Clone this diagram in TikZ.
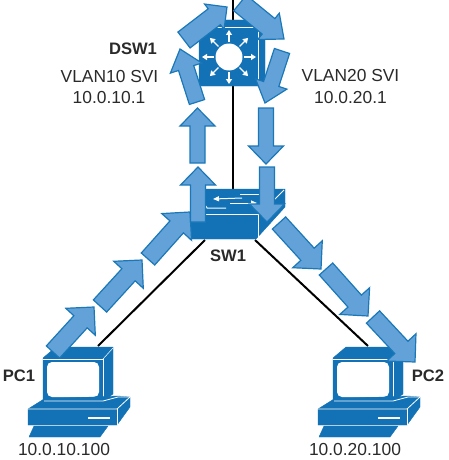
\documentclass[tikz,border=0pt]{standalone}
\usepackage{fontspec}
\setmainfont{Liberation Sans}
\usetikzlibrary{calc,arrows.meta}
\definecolor{devblue}{HTML}{1272B5}
\definecolor{flowfill}{HTML}{62A2D8}
\definecolor{flowedge}{HTML}{1B78B8}
\definecolor{labelink}{HTML}{2A2A2A}
\tikzset{
  link/.style={draw=black,line width=2pt},
  face/.style={fill=devblue,draw=devblue,line width=.4pt,line join=round},
  edgeline/.style={draw=white,line width=.8pt},
  spoke/.style={draw=white,line width=1.4pt,-{Triangle[width=6pt,length=5pt]}},
  glyph/.style={draw=white,line width=1pt},
  flowshape/.style={fill=flowfill,draw=flowedge,line width=1.2pt,line join=miter},
  lbl/.style={font=\fontsize{17.4}{19}\selectfont,text=labelink,inner sep=0pt},
  blbl/.style={font=\fontsize{16.6}{19}\selectfont\bfseries,text=labelink,inner sep=0pt}
}
% tail x,y ; tip x,y ; half shaft ; half head ; head length
\newcommand{\flowarrow}[7]{%
  \coordinate (ta) at (#1,#2);
  \coordinate (tb) at (#3,#4);
  \coordinate (hb) at ($(tb)!#7pt!(ta)$);
  \draw[flowshape]
    ($(ta)!#5pt!90:(tb)$) -- ($(hb)!#5pt!-90:(ta)$) -- ($(hb)!#6pt!-90:(ta)$) --
    (tb) -- ($(hb)!#6pt!90:(ta)$) -- ($(hb)!#5pt!90:(ta)$) -- ($(ta)!#5pt!-90:(tb)$) -- cycle;
}
\newcommand{\pcglyph}[1]{%
  \begin{scope}[shift={(#1,0)}]
    \fill[face] (43,358) -- (56,347) -- (113,347) -- (113,394) -- (103,401) -- (43,401) -- cycle;
    \draw[edgeline,line width=.5pt] (43,359) -- (103,359) -- (103,401);
    \draw[edgeline,line width=.5pt] (103,359) -- (113,348);
    \fill[white,rounded corners=5pt] (47,362) rectangle (99,397);
    \fill[face] (28,409) -- (44,399) -- (118,396) -- (130,397) -- (130,407) -- (117,425) -- (28,425) -- cycle;
    \draw[edgeline] (44,401) -- (103,401) -- (118,397) -- (130,397);
    \draw[edgeline] (28,409) -- (117,409) -- (130,397);
    \draw[edgeline] (117,409) -- (117,425);
    \draw[white,line width=1.6pt] (88,418) -- (110,418);
    \fill[face] (34,426) -- (108,426) -- (100,437) -- (29,437) -- cycle;
  \end{scope}
}
\begin{document}
\begin{tikzpicture}[x=1pt,y=-1pt]
\useasboundingbox (0,0) rectangle (449,460);
\clip (0,0) rectangle (449,460);
% connection points
\coordinate (uplink) at (232.8,0);
\coordinate (swport) at (232.8,200);
\coordinate (swleft) at (205,240);
\coordinate (swright) at (255,240);
\coordinate (pconetop) at (98,346);
\coordinate (pctwotop) at (368,346);
% links
\draw[link] (uplink) -- (swport);
\draw[link] (swleft) -- (pconetop);
\draw[link] (swright) -- (pctwotop);
% DSW1
\fill[face] (199,27) -- (218,20) -- (265,20) -- (265,80) -- (258,86) -- (199,86) -- cycle;
\draw[edgeline] (212,27) -- (258,27) -- (258,84);
\fill[white] (229,57) circle (13.5);
\foreach \a in {0,45,...,315}{
  \draw[spoke] ($(229,57)+(\a:15)$) -- ($(229,57)+(\a:27)$);
}
% SW1
\fill[face] (206,189) -- (285,189) -- (285,207) -- (256,239) -- (189,239) -- (189,214) -- cycle;
\draw[edgeline] (189,214) -- (258,214) -- (258,239);
\draw[edgeline] (274,200) -- (284,190);
\draw[glyph] (240,194) -- (260,194);
\draw[glyph,{Triangle[width=5pt,length=6pt]}-] (213,199) -- (242,198);
\draw[glyph,-{Triangle[width=5pt,length=6pt]}] (230,203) -- (257,203);
\draw[glyph] (206,206) -- (207,208) -- (226,208);
% PCs
\pcglyph{0}
\pcglyph{290}
% flow arrows
\flowarrow{53}{352}{94}{307}{9}{20}{20}
\flowarrow{100}{306}{142}{260}{9}{20}{20}
\flowarrow{148}{259}{190}{212}{9}{20}{20}
\flowarrow{198}{222}{198}{167}{7.5}{17.5}{18}
\flowarrow{197.5}{163}{197.5}{108}{7.5}{17.5}{18}
\flowarrow{197}{102}{180}{49}{8}{16.5}{20}
\flowarrow{184}{40}{227}{7}{10}{16}{16}
\flowarrow{240}{3}{284}{39}{10}{17}{20}
\flowarrow{282}{51}{265}{103}{8}{16.5}{20}
\flowarrow{266}{108}{266}{164}{7.5}{17.5}{18}
\flowarrow{267}{167}{267}{222}{7.5}{17.5}{18}
\flowarrow{279}{223}{321}{269}{9}{20}{20}
\flowarrow{326}{269}{368}{316}{9}{20}{20}
\flowarrow{373}{317}{415}{362}{9}{20}{20}
% labels
\node[blbl] (dswlabel) at (133,49) {DSW1};
\node[lbl] (svia) at (109.5,77) {VLAN10 SVI};
\node[lbl] (ipa) at (109,98) {10.0.10.1};
\node[lbl] (svib) at (350.5,76) {VLAN20 SVI};
\node[lbl] (ipb) at (350.5,98) {10.0.20.1};
\node[blbl] (swlabel) at (228,256) {SW1};
\node[blbl] (pconelabel) at (19,376) {PC1};
\node[blbl] (pctwolabel) at (428,376) {PC2};
\node[lbl] (ipc) at (64,450) {10.0.10.100};
\node[lbl] (ipd) at (355,450) {10.0.20.100};
\end{tikzpicture}
\end{document}
